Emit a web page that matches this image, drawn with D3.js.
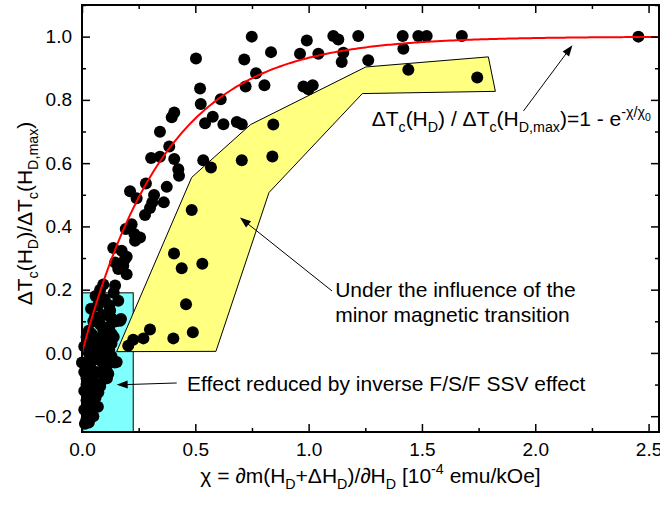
<!DOCTYPE html>
<html>
<head>
<meta charset="utf-8">
<script src="https://cdn.jsdelivr.net/npm/d3@7"></script>
<style>
  body { margin: 0; background: #fff; }
  text { font-family: "Liberation Sans", Arial, sans-serif; fill: #000; }
</style>
</head>
<body>
<div class="chart"></div>
<script>
// measured points: chi [1e-4 emu/kOe] and normalised dTc
const chiValues = [
  0.503, 0.521, 0.524, 0.612, 0.407, 0.396, 0.344, 0.577, 0.543, 0.624,
  0.385, 0.305, 0.344, 0.407, 0.425, 0.428, 0.535, 0.569, 0.282, 0.374,
  0.212, 0.241, 0.318, 0.310, 0.361, 0.300, 0.278, 0.484, 0.219, 0.193,
  0.231, 0.256, 0.234, 0.138, 0.175, 0.197, 0.406, 0.440, 0.531, 0.459,
  0.300, 0.271, 0.226, 0.204, 0.403, 0.489, 0.172, 0.197, 0.182, 0.146,
  0.190, 0.160, 0.094, 0.146, 0.160, 0.124, 0.057, 0.094, 0.131, 0.043,
  0.153, 0.115, 0.087, 0.072, 0.050, 0.035, 0.013,
  0.749, 0.834, 0.716, 0.768, 0.722, 0.805, 0.683, 0.705, 0.844, 0.705,
  0.840, 0.992, 0.962, 1.043, 0.977, 1.018, 0.999, 1.109, 1.131, 1.219,
  1.153, 1.146, 1.263, 1.415, 1.418, 1.484, 1.521, 1.440, 1.676, 1.744, 2.455,
  0.01, 0.02, 0.03, 0.05, 0.07, 0.08, 0.10, 0.12, 0.06, 0.04,
  0.02, 0.05, 0.08, 0.03, 0.06, 0.02, 0.04, 0.01, 0.02, 0.10,
  0.13, 0.11, 0.08, 0.09, 0.12, 0.14, 0.10, 0.07, 0.05, 0.03,
  0.00, 0.01, 0.02, 0.168, 0.145, 0.116, 0.08, 0.03,
  0.12, 0.14, 0.15, 0.13, 0.09, 0.11, 0.06, 0.09, 0.11, 0.05,
  0.04, 0.06, 0.08, 0.03, 0.07, 0.05, 0.03, 0.01, 0.04, 0.06,
  0.10, 0.12, 0.13
];
const dTcValues = [
  0.931, 0.836, 0.787, 0.802, 0.760, 0.745, 0.699, 0.747, 0.726, 0.723,
  0.653, 0.616, 0.620, 0.613, 0.581, 0.560, 0.609, 0.586, 0.536, 0.525,
  0.511, 0.489, 0.499, 0.476, 0.476, 0.458, 0.436, 0.452, 0.407, 0.392,
  0.376, 0.365, 0.355, 0.332, 0.323, 0.304, 0.314, 0.268, 0.282, 0.154,
  0.074, 0.046, 0.042, 0.023, 0.046, 0.065, 0.107, 0.249, 0.276, 0.286,
  0.297, 0.265, 0.216, 0.213, 0.165, 0.134, 0.113, 0.070, 0.060, 0.060,
  -0.029, -0.035, -0.066, -0.124, -0.166, -0.208, -0.224,
  1.000, 0.951, 0.928, 0.884, 0.842, 0.846, 0.730, 0.723, 0.722, 0.609,
  0.621, 0.988, 0.946, 0.946, 0.842, 0.846, 0.834, 1.002, 0.991, 1.002,
  0.949, 0.920, 0.925, 1.002, 0.962, 1.002, 1.002, 0.895, 1.002, 0.871, 1.000,
  0.02, 0.05, 0.00, 0.02, 0.04, 0.00, 0.02, 0.01, -0.02, -0.05,
  -0.08, -0.09, -0.10, -0.12, -0.14, -0.15, -0.19, -0.18, -0.21, -0.05,
  0.03, 0.08, 0.09, 0.12, 0.15, 0.19, 0.17, 0.15, 0.10, 0.07,
  -0.03, -0.06, -0.10, 0.102, -0.03, -0.066, -0.105, -0.175,
  -0.02, 0.05, 0.10, 0.11, -0.03, -0.08, -0.06, 0.05, 0.12, 0.05,
  0.14, 0.18, 0.20, -0.03, -0.17, -0.20, -0.22, -0.12, -0.10, -0.12,
  0.00, 0.08, -0.01
];

// fit parameter of 1 - exp(-chi/chi0)
const chi0 = 0.37;

// shaded regions
const cyanBox = [[0, -0.25], [0.226, 0.19]];
const yellowChi = [0.153, 0.484, 0.744, 1.252, 1.793, 1.824, 1.237, 0.825, 0.591];
const yellowDTc = [0.004, 0.555, 0.722, 0.904, 0.936, 0.827, 0.820, 0.507, 0.005];

const xTicks = [0.0, 0.5, 1.0, 1.5, 2.0, 2.5];
const xMinor = [0.25, 0.75, 1.25, 1.75, 2.25];
const yTicks = [-0.2, 0.0, 0.2, 0.4, 0.6, 0.8, 1.0];
const yMinor = [-0.1, 0.1, 0.3, 0.5, 0.7, 0.9, 1.1];

const W = 660, H = 506;
const margin = { top: 5, right: 1, bottom: 74, left: 82 };
const w = W - margin.left - margin.right,
    h = H - margin.top - margin.bottom;

const x = d3.scaleLinear().domain([0, 2.546]).range([0, w]);
const y = d3.scaleLinear().domain([-0.25, 1.1]).range([h, 0]);

const svg = d3.select("div.chart").append("svg")
    .attr("width", W).attr("height", H);
const g = svg.append("g")
    .attr("transform", "translate(" + margin.left + "," + margin.top + ")");

// text with sub/superscripts
function rich(sel, parts, size) {
    let cur = 0;
    parts.forEach(p => {
        const off = p[1] === "sub" ? size * 0.3 : p[1] === "sup" ? -size * 0.42 :
            p[1] === "supsub" ? -size * 0.25 : 0;
        sel.append("tspan")
            .attr("dy", off - cur)
            .attr("font-size", p[1] === "supsub" ? size * 0.5 : p[1] ? size * 0.68 : size)
            .text(p[0]);
        cur = off;
    });
}

// regions
g.append("rect")
    .attr("x", x(cyanBox[0][0])).attr("y", y(cyanBox[1][1]))
    .attr("width", x(cyanBox[1][0]) - x(cyanBox[0][0]))
    .attr("height", y(cyanBox[0][1]) - y(cyanBox[1][1]))
    .attr("fill", "#80ffff").attr("stroke", "#000").attr("stroke-width", 1);

g.append("path")
    .attr("d", d3.line()(yellowChi.map((c, i) => [x(c), y(yellowDTc[i])])) + "Z")
    .attr("fill", "#ffff80").attr("stroke", "#000").attr("stroke-width", 1);

// dots
g.selectAll("circle.pt")
    .data(chiValues.map((c, i) => [c, dTcValues[i]]))
    .enter().append("circle")
    .attr("class", "pt")
    .attr("cx", d => x(d[0]))
    .attr("cy", d => y(d[1]))
    .attr("r", 6)
    .attr("fill", "#000");

// fit curve
const fit = d3.range(0, 2.5461, 0.01).map(c => [c, 1 - Math.exp(-c / chi0)]);
g.append("path")
    .attr("d", d3.line().x(d => x(d[0])).y(d => y(d[1]))(fit))
    .attr("fill", "none").attr("stroke", "#ff0000").attr("stroke-width", 2);

// axes (ticks inward on all sides)
const fs = 19;
g.append("g").attr("transform", "translate(0," + h + ")")
    .call(d3.axisBottom(x).tickValues(xTicks).tickSize(-8).tickPadding(11).tickFormat(d3.format(".1f")));
g.append("g").attr("transform", "translate(0," + h + ")")
    .call(d3.axisBottom(x).tickValues(xMinor).tickSize(-4).tickFormat(""));
g.append("g").call(d3.axisTop(x).tickValues(xTicks).tickSize(-8).tickFormat(""));
g.append("g").call(d3.axisTop(x).tickValues(xMinor).tickSize(-4).tickFormat(""));
g.append("g")
    .call(d3.axisLeft(y).tickValues(yTicks).tickSize(-8).tickPadding(10).tickFormat(d3.format(".1f")));
g.append("g").call(d3.axisLeft(y).tickValues(yMinor).tickSize(-4).tickFormat(""));
g.append("g").attr("transform", "translate(" + w + ",0)")
    .call(d3.axisRight(y).tickValues(yTicks).tickSize(-8).tickFormat(""));
g.append("g").attr("transform", "translate(" + w + ",0)")
    .call(d3.axisRight(y).tickValues(yMinor).tickSize(-4).tickFormat(""));
g.selectAll(".domain").remove();
g.selectAll(".tick line").attr("stroke", "#000").attr("stroke-width", 1.5);
g.selectAll(".tick text").attr("font-size", fs)
    .attr("font-family", "Liberation Sans, Arial, sans-serif").attr("fill", "#000");

g.append("rect").attr("width", w).attr("height", h)
    .attr("fill", "none").attr("stroke", "#000").attr("stroke-width", 2);

// axis titles
const xt = g.append("text").attr("x", w / 2).attr("y", h + 51).attr("text-anchor", "middle");
rich(xt, [["\u03c7 = \u2202m(H"], ["D", "sub"], ["+\u0394H"], ["D", "sub"], [")/\u2202H"], ["D", "sub"],
    [" [10"], ["-4", "sup"], [" emu/kOe]"]], 21);

const yt = g.append("text")
    .attr("transform", "translate(" + (-50) + "," + (h / 2 - 5) + ") rotate(-90)")
    .attr("text-anchor", "middle");
rich(yt, [["\u0394T"], ["c", "sub"], ["(H"], ["D", "sub"], [")/\u0394T"], ["c", "sub"], ["(H"],
    ["D,max", "sub"], [")"]], 21);

// annotations
function arrow(x1, y1, x2, y2) {
    const ax1 = x(x1), ay1 = y(y1), ax2 = x(x2), ay2 = y(y2);
    const ang = Math.atan2(ay2 - ay1, ax2 - ax1), L = 11, Wd = 4;
    g.append("line").attr("x1", ax1).attr("y1", ay1)
        .attr("x2", ax2 - L * 0.8 * Math.cos(ang)).attr("y2", ay2 - L * 0.8 * Math.sin(ang))
        .attr("stroke", "#000").attr("stroke-width", 1);
    const bx = ax2 - L * Math.cos(ang), by = ay2 - L * Math.sin(ang);
    g.append("path")
        .attr("d", "M" + ax2 + "," + ay2 +
            "L" + (bx + Wd * Math.sin(ang)) + "," + (by - Wd * Math.cos(ang)) +
            "L" + (bx - Wd * Math.sin(ang)) + "," + (by + Wd * Math.cos(ang)) + "Z")
        .attr("fill", "#000");
}
arrow(1.948, 0.765, 2.164, 0.973);
arrow(1.103, 0.196, 0.697, 0.428);
arrow(0.418, -0.095, 0.153, -0.101);

const ft = g.append("text").attr("x", x(1.278)).attr("y", y(0.718));
rich(ft, [["\u0394T"], ["c", "sub"], ["(H"], ["D", "sub"], [") / \u0394T"], ["c", "sub"], ["(H"],
    ["D,max", "sub"], [")=1 - e"], ["-\u03c7/\u03c7", "sup"], ["0", "supsub"]], 21);

g.append("text").attr("x", x(1.117)).attr("y", y(0.176)).attr("font-size", 21)
    .text("Under the influence of the");
g.append("text").attr("x", x(1.117)).attr("y", y(0.099)).attr("font-size", 21)
    .text("minor magnetic transition");
g.append("text").attr("x", x(0.463)).attr("y", y(-0.12)).attr("font-size", 21)
    .text("Effect reduced by inverse F/S/F SSV effect");
</script>
</body>
</html>
